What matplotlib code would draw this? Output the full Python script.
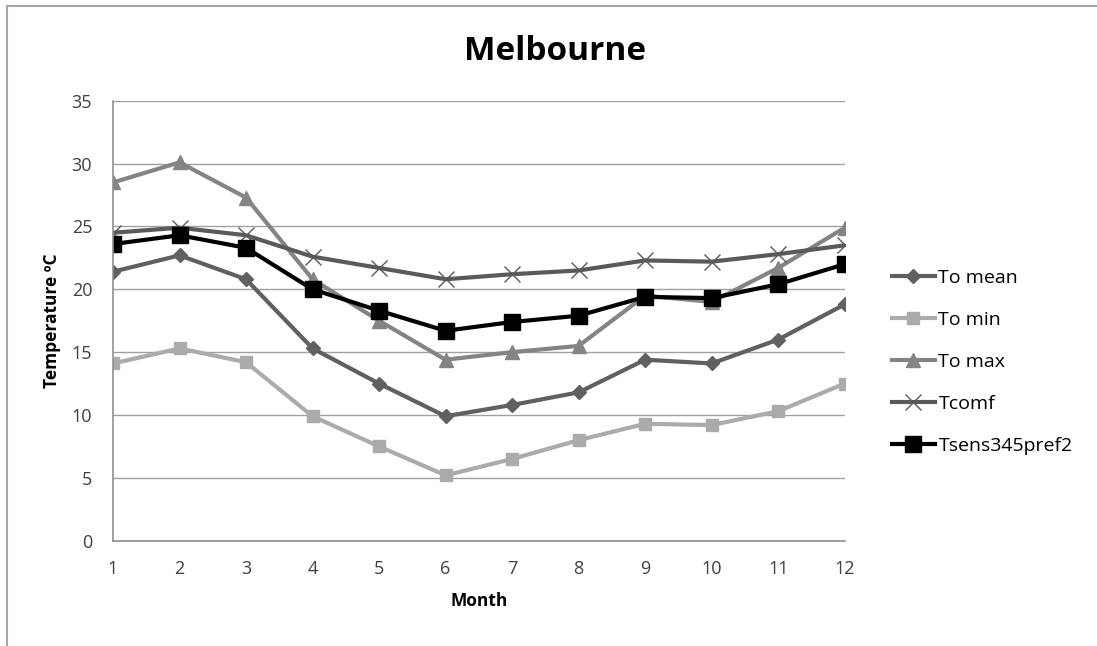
import matplotlib.pyplot as plt
from matplotlib.lines import Line2D

plt.rcParams['font.family'] = ['Open Sans', 'DejaVu Sans']

months = [1, 2, 3, 4, 5, 6, 7, 8, 9, 10, 11, 12]
to_mean = [21.4, 22.7, 20.8, 15.3, 12.5, 9.9, 10.8, 11.8, 14.4, 14.1, 16.0, 18.8]
to_min = [14.1, 15.3, 14.2, 9.9, 7.5, 5.2, 6.5, 8.0, 9.3, 9.2, 10.3, 12.5]
to_max = [28.5, 30.1, 27.3, 20.8, 17.5, 14.4, 15.0, 15.5, 19.5, 19.0, 21.7, 24.9]
tcomf = [24.5, 24.9, 24.3, 22.6, 21.7, 20.8, 21.2, 21.5, 22.3, 22.2, 22.8, 23.5]
tsens = [23.6, 24.3, 23.3, 20.0, 18.3, 16.7, 17.4, 17.9, 19.4, 19.3, 20.4, 22.0]

fig = plt.figure(figsize=(10.97, 6.46), dpi=100)
ax = fig.add_axes([0.103, 0.163, 0.667, 0.681])

# chart border (only left and top visible in the cropped original)
fig.add_artist(Line2D([0.006, 0.006], [0, 0.991], transform=fig.transFigure, color='#a6a6a6', lw=1.5))
fig.add_artist(Line2D([0.006, 1], [0.991, 0.991], transform=fig.transFigure, color='#a6a6a6', lw=1.5))

ax.plot(months, to_mean, color='#606060', lw=3, marker='D', ms=7, label='To mean')
ax.plot(months, to_min, color='#ababab', lw=3, marker='s', ms=9, label='To min')
ax.plot(months, to_max, color='#848484', lw=3, marker='^', ms=10, label='To max')
ax.plot(months, tcomf, color='#5a5a5a', lw=3, marker='x', ms=11, mew=1, label='Tcomf')
ax.plot(months, tsens, color='#000000', lw=3, marker='s', ms=11, label='Tsens345pref2')

ax.set_xlim(1, 12)
ax.set_ylim(0, 35)
ax.set_yticks(range(0, 36, 5))
ax.set_xticks(months)
ax.grid(axis='y', color='#a0a0a0', lw=1)
ax.set_axisbelow(True)
for s in ['top', 'right']:
    ax.spines[s].set_visible(False)
for s in ['left', 'bottom']:
    ax.spines[s].set_color('#909090')
    ax.spines[s].set_linewidth(1.2)
ax.tick_params(length=0, labelsize=13, labelcolor='#404040')
ax.tick_params(axis='y', pad=15)
ax.tick_params(axis='x', pad=14)

ax.set_xlabel('Month', fontsize=12.5, fontweight='bold', labelpad=10)
ax.set_ylabel('Temperature ºC', fontsize=12.5, fontweight='bold', labelpad=8)
fig.text(0.506, 0.921, 'Melbourne', ha='center', va='center', fontsize=24, fontweight='bold')

fig.legend(loc='upper left', bbox_to_anchor=(0.797, 0.611), frameon=False, fontsize=14,
           handlelength=2.2, labelspacing=1.24, handletextpad=0.2)

fig.savefig('out.png', dpi=100)
